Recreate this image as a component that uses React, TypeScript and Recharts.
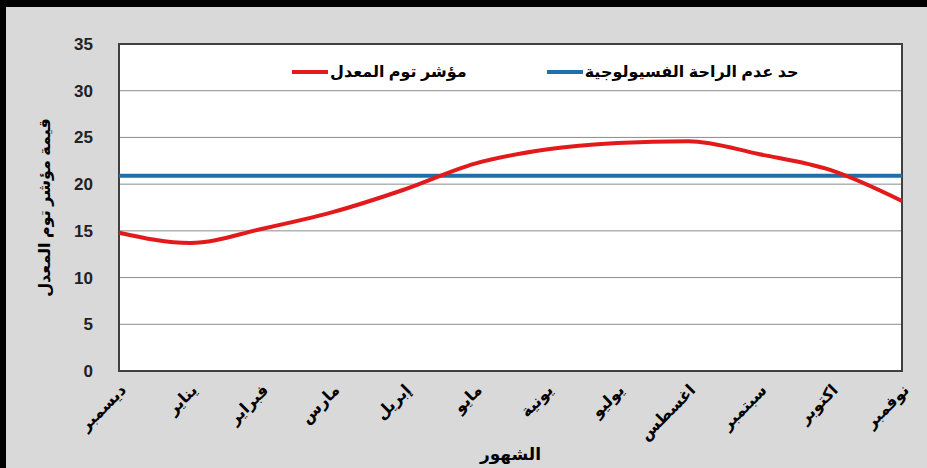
import { CartesianGrid, Line, LineChart, ReferenceArea, XAxis, YAxis } from "recharts"

const months = ["ديسمبر", "يناير", "فبراير", "مارس", "إبريل", "مايو", "يونية", "يوليو", "اغسطس", "سبتمبر", "اكتوبر", "نوفمبر"]
const tciValues = [14.8, 13.7, 15.2, 17.0, 19.4, 22.2, 23.7, 24.4, 24.6, 23.2, 21.5, 18.2]
const discomfortLimit = [20.9, 20.9, 20.9, 20.9, 20.9, 20.9, 20.9, 20.9, 20.9, 20.9, 20.9, 20.9]
const yTicks = [0, 5, 10, 15, 20, 25, 30, 35]

const tciName = "مؤشر توم المعدل"
const limitName = "حد عدم الراحة الفسيولوجية"

const data = months.map((m, i) => ({ month: m, tci: tciValues[i], limit: discomfortLimit[i] }))

const font = "'Liberation Sans', 'DejaVu Sans', Arial, sans-serif"

// legend drawn as html on top of the plot, so it does not push the plot area down
function LegendBox() {
  const item = (color: string, text: string) => (
    <div style={{ display: "flex", alignItems: "center", whiteSpace: "nowrap" }}>
      <span style={{ display: "inline-block", width: 36, height: 4, background: color, marginRight: 2 }} />
      <span style={{ fontWeight: "bold", fontSize: 16, color: "#000", fontFamily: font }}>{text}</span>
    </div>
  )
  return (
    <div style={{ position: "absolute", left: 292, top: 62, width: 580, display: "flex", gap: 80 }}>
      {item("#e31a1c", tciName)}
      {item("#1f6fa8", limitName)}
    </div>
  )
}

export default function App() {
  return (
    <div
      style={{
        position: "absolute",
        left: 0,
        top: 0,
        width: 927,
        height: 468,
        background: "#d9d9d9",
        boxSizing: "border-box",
        borderTop: "7px solid #000",
        borderLeft: "6px solid #000",
        overflow: "hidden",
      }}
    >
      <div style={{ position: "absolute", left: -6, top: -7 }}>
        <LineChart
          width={927}
          height={468}
          data={data}
          margin={{ top: 44, right: 25, left: 30, bottom: 0 }}
          style={{ fontFamily: font }}
        >
          <CartesianGrid vertical={false} stroke="#8c8c8c" strokeWidth={1} fill="#ffffff" />
          <XAxis
            dataKey="month"
            interval={0}
            height={97}
            tickLine={false}
            axisLine={false}
            padding={{ left: 0, right: 0 }}
            angle={-45}
            textAnchor="end"
            tick={{ fill: "#000", fontSize: 16, fontWeight: "bold" }}
            tickMargin={6}
            label={{ value: "الشهور", position: "insideBottom", offset: 8, fill: "#000", fontSize: 17, fontWeight: "bold" }}
          />
          <YAxis
            width={89}
            domain={[0, 35]}
            ticks={yTicks}
            tickLine={false}
            axisLine={false}
            tickMargin={20}
            tick={{ fill: "#222", fontSize: 17, fontWeight: "bold" }}
            label={{
              value: "قيمة مؤشر توم المعدل",
              angle: -90,
              position: "insideLeft",
              offset: 14,
              style: { textAnchor: "middle" },
              fill: "#000",
              fontSize: 16,
              fontWeight: "bold",
            }}
          />
          <ReferenceArea
            x1={months[0]}
            x2={months[months.length - 1]}
            y1={0}
            y2={35}
            fill="none"
            stroke="#404040"
            strokeWidth={2}
            ifOverflow="visible"
          />
          <Line
            type="linear"
            dataKey="limit"
            name={limitName}
            stroke="#1f6fa8"
            strokeWidth={4}
            dot={false}
            isAnimationActive={false}
          />
          <Line
            type="monotone"
            dataKey="tci"
            name={tciName}
            stroke="#e31a1c"
            strokeWidth={4}
            dot={false}
            isAnimationActive={false}
          />
        </LineChart>
      </div>
      <div style={{ position: "absolute", left: -6, top: -7 }}>
        <LegendBox />
      </div>
    </div>
  )
}
